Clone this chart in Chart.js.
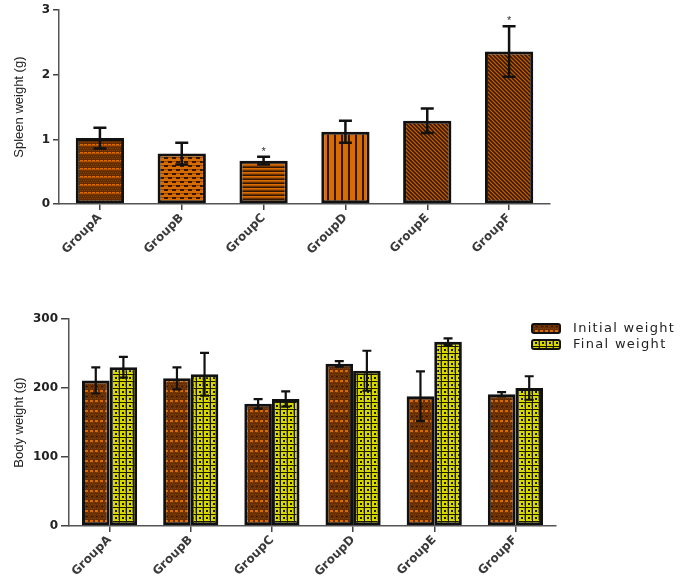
<!DOCTYPE html>
<html>
<head>
<meta charset="utf-8">
<script src="https://cdn.jsdelivr.net/npm/chart.js@4.4.0/dist/chart.umd.min.js"></script>
<style>
body { margin: 0; background: #fff; }
#wrap { position: relative; width: 685px; height: 580px; }
canvas { position: absolute; left: 0; }
</style>
</head>
<body>
<div id="wrap">
  <canvas id="spleen" width="685" height="290" style="top:0"></canvas>
  <canvas id="body" width="685" height="290" style="top:290px"></canvas>
</div>
<script>
var groups = ["GroupA", "GroupB", "GroupC", "GroupD", "GroupE", "GroupF"];
var spleenMean = [1.02, 0.78, 0.67, 1.12, 1.29, 2.36];
var spleenSem = [0.16, 0.17, 0.06, 0.17, 0.19, 0.39];
var spleenMark = ["", "", "*", "", "", "*"];
var initialWeight = [211, 214, 177, 235, 188, 191];
var initialSem = [19, 16, 7, 4, 36, 3];
var finalWeight = [230, 220, 184, 225, 267, 200];
var finalSem = [15, 31, 11, 29, 5, 17];

var orange = "#d86c00", brown = "#6e3200", dark = "#341500", yellow = "#d8d800";

// little canvas tiles used as bar fills
function tile(ctx, w, h, draw) {
  var c = document.createElement("canvas");
  c.width = w; c.height = h;
  draw(c.getContext("2d"));
  return ctx.createPattern(c, "repeat");
}
function px(g, col, x, y, w, h) { g.fillStyle = col; g.fillRect(x, y, w || 1, h || 1); }

function spleenFills(ctx) {
  var a = tile(ctx, 8, 8, function (g) {
    px(g, "#622b00", 0, 0, 8, 8);
    for (var y = 2; y < 8; y += 2) for (var x = y % 4 ? 0 : 1; x < 8; x += 2) px(g, "#844006", x, y);
    px(g, orange, 0, 0, 3, 1); px(g, orange, 4, 0, 3, 1);
    px(g, "#a85200", 0, 1, 8, 1);
  });
  var b = tile(ctx, 8, 8, function (g) {
    px(g, orange, 0, 0, 8, 8);
    px(g, dark, 0, 1, 4, 2); px(g, dark, 4, 5, 4, 2);
    px(g, "#9a4a00", 4, 1, 4, 1); px(g, "#9a4a00", 0, 5, 4, 1);
  });
  var c = tile(ctx, 1, 4, function (g) {
    px(g, orange, 0, 0, 1, 1); px(g, "#b05800", 0, 1); px(g, brown, 0, 2); px(g, dark, 0, 3);
  });
  var d = tile(ctx, 7, 1, function (g) {
    px(g, orange, 0, 0, 5, 1); px(g, dark, 5, 0, 2, 1);
  });
  var e = tile(ctx, 4, 4, function (g) {
    px(g, brown, 0, 0, 4, 4);
    for (var y = 0; y < 4; y++) for (var x = 0; x < 4; x++) {
      if ((x - y + 8) % 4 == 0) px(g, "#c26000", x, y);
      else if ((x - y + 8) % 4 == 2) px(g, dark, x, y);
    }
  });
  return [a, b, c, d, e, e];
}

function bodyFills(ctx) {
  var init = tile(ctx, 10, 10, function (g) {
    px(g, "#652d00", 0, 0, 10, 10);
    for (var y = 2; y < 10; y += 2) for (var x = y % 4 ? 0 : 1; x < 10; x += 2) px(g, "#844006", x, y);
    px(g, orange, 0, 0, 3, 2); px(g, orange, 5, 0, 3, 2);
    px(g, dark, 1, 6, 2, 1); px(g, dark, 6, 6, 2, 1);
  });
  var fin = tile(ctx, 7, 7, function (g) {
    px(g, yellow, 0, 0, 7, 7);
    px(g, "#1a1a00", 0, 0, 7, 1);
    px(g, "#1a1a00", 0, 0, 1, 7);
    px(g, "#1a1a00", 3, 3, 2, 2);
    px(g, "#8a8a00", 6, 1, 1, 5);
  });
  return [init, fin];
}

var errorBars = {
  id: "errorBars",
  afterDatasetsDraw: function (chart, args, opts) {
    var ctx = chart.ctx, ys = chart.scales.y;
    ctx.save();
    ctx.strokeStyle = "#111";
    ctx.lineWidth = opts.lineWidth;
    chart.data.datasets.forEach(function (ds, i) {
      chart.getDatasetMeta(i).data.forEach(function (bar, j) {
        var v = ds.data[j], e = ds.errors[j];
        var top = ys.getPixelForValue(v + e), bot = ys.getPixelForValue(v - e);
        ctx.beginPath();
        ctx.moveTo(bar.x, top); ctx.lineTo(bar.x, bot);
        ctx.moveTo(bar.x - opts.cap, top); ctx.lineTo(bar.x + opts.cap, top);
        ctx.moveTo(bar.x - opts.cap, bot); ctx.lineTo(bar.x + opts.cap, bot);
        ctx.stroke();
        if (ds.marks && ds.marks[j]) {
          ctx.fillStyle = "#333";
          ctx.font = "11px 'Liberation Sans', Arial";
          ctx.textAlign = "center";
          ctx.textBaseline = "alphabetic";
          ctx.fillText(ds.marks[j], bar.x, top - 2);
        }
      });
    });
    ctx.restore();
  }
};

var boxLegend = {
  id: "boxLegend",
  afterDraw: function (chart) {
    var ctx = chart.ctx;
    ctx.save();
    chart.data.datasets.forEach(function (ds, i) {
      var y = 34 + i * 16;
      ctx.beginPath();
      ctx.roundRect(532, y, 28, 9, 2);
      ctx.fillStyle = ds.backgroundColor;
      ctx.fill();
      ctx.lineWidth = 2;
      ctx.strokeStyle = "#111";
      ctx.stroke();
      ctx.fillStyle = "#222";
      ctx.font = "13px 'DejaVu Sans'";
      ctx.letterSpacing = "1.3px";
      ctx.textBaseline = "middle";
      ctx.fillText(ds.label, 573, y + 5);
    });
    ctx.restore();
  }
};

function axes(yMin, yMax, step, title, yWidth, xHeight, yTick) {
  var tickFont = { family: "'DejaVu Sans'", size: 12, weight: "bold" };
  return {
    x: {
      grid: { drawOnChartArea: false, offset: false, tickLength: 6, color: "#444", lineWidth: 1.5 },
      border: { color: "#555", width: 1.5 },
      ticks: { maxRotation: 45, minRotation: 45, padding: 1, color: "#3a3a3a",
               font: { family: "'DejaVu Sans'", size: 12, weight: "bold" } },
      afterFit: function (s) { s.height = xHeight; }
    },
    y: {
      min: yMin, max: yMax,
      grid: { drawOnChartArea: false, tickLength: yTick, color: "#444", lineWidth: 1.5 },
      border: { color: "#555", width: 1.5 },
      ticks: { stepSize: step, padding: 3, color: "#222", font: tickFont },
      title: { display: true, text: title, color: "#222", padding: { top: 12, bottom: 0 },
               font: { family: "'Liberation Sans Narrow', 'Liberation Sans', Arial", size: 13 } },
      afterFit: function (s) { s.width = yWidth; }
    }
  };
}

var spleenCtx = document.getElementById("spleen").getContext("2d");
new Chart(spleenCtx, {
  type: "bar",
  data: {
    labels: groups,
    datasets: [{
      label: "Spleen weight",
      data: spleenMean,
      errors: spleenSem,
      marks: spleenMark,
      backgroundColor: spleenFills(spleenCtx),
      borderColor: "#111",
      borderWidth: 3,
      borderSkipped: false,
      barPercentage: 0.59,
      categoryPercentage: 1
    }]
  },
  options: {
    responsive: false,
    animation: false,
    layout: { padding: { top: 6, right: 135, left: 0, bottom: 0 } },
    plugins: { legend: { display: false }, tooltip: { enabled: false },
               errorBars: { cap: 6.5, lineWidth: 2.5 } },
    scales: axes(0, 3, 1, "Spleen weight (g)", 59, 86, 6)
  },
  plugins: [errorBars]
});

var bodyCtx = document.getElementById("body").getContext("2d");
var bf = bodyFills(bodyCtx);
new Chart(bodyCtx, {
  type: "bar",
  data: {
    labels: groups,
    datasets: [{
      label: "Initial weight",
      data: initialWeight,
      errors: initialSem,
      backgroundColor: bf[0],
      borderColor: "#111",
      borderWidth: 3,
      borderSkipped: false,
      barPercentage: 1,
      categoryPercentage: 0.68
    }, {
      label: "Final weight",
      data: finalWeight,
      errors: finalSem,
      backgroundColor: bf[1],
      borderColor: "#111",
      borderWidth: 3,
      borderSkipped: false,
      barPercentage: 1,
      categoryPercentage: 0.68
    }]
  },
  options: {
    responsive: false,
    animation: false,
    layout: { padding: { top: 29, right: 129, left: 0, bottom: 0 } },
    plugins: { legend: { display: false }, tooltip: { enabled: false },
               errorBars: { cap: 4.5, lineWidth: 2.2 } },
    scales: axes(0, 300, 100, "Body weight (g)", 69, 54, 8)
  },
  plugins: [errorBars, boxLegend]
});
</script>
</body>
</html>
